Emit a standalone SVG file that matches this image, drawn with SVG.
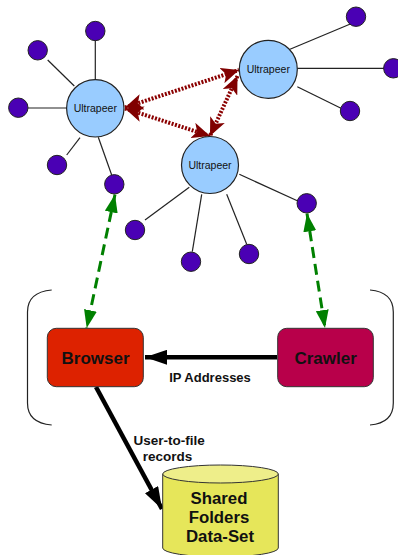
<svg xmlns="http://www.w3.org/2000/svg" width="398" height="555" viewBox="0 0 398 555">
<style>
.leaf{fill:#4a00b4;stroke:#222;stroke-width:1}
.up{fill:#99ccff;stroke:#222;stroke-width:1.2}
.uptext{font-family:"Liberation Sans",Arial,sans-serif;font-size:10.5px;fill:#111;text-anchor:middle}
.edge{stroke:#222;stroke-width:1.2;fill:none}
.peer{stroke:#8b0000;stroke-width:4;stroke-dasharray:2 1.5;fill:none}
.green{stroke:#008000;stroke-width:3;stroke-dasharray:11 6;fill:none}
.black{stroke:#000;stroke-width:4.5;fill:none}
.bold{font-family:"Liberation Sans",Arial,sans-serif;font-weight:bold;fill:#111;text-anchor:middle}
.bracket{stroke:#222;stroke-width:1.2;fill:none}
</style>
<defs>
<marker id="mred" viewBox="0 0 18 16" refX="18" refY="8" markerWidth="18" markerHeight="16" markerUnits="userSpaceOnUse" orient="auto-start-reverse">
<path d="M0,0 L18,8 L0,16 L4.5,8 z" fill="#800000"/>
</marker>
<marker id="mgreen" viewBox="0 0 18 13" refX="18" refY="6.5" markerWidth="18" markerHeight="13" markerUnits="userSpaceOnUse" orient="auto-start-reverse">
<path d="M0,0 L18,6.5 L0,13 z" fill="#008000"/>
</marker>
<marker id="mblack" viewBox="0 0 22 15" refX="22" refY="7.5" markerWidth="22" markerHeight="15" markerUnits="userSpaceOnUse" orient="auto">
<path d="M0,0 L22,7.5 L0,15 z" fill="#000"/>
</marker>
</defs>

<g id="connectors">
<line class="edge" x1="95.3" y1="40" x2="95.3" y2="79.5"/>
<line class="edge" x1="47.7" y1="60" x2="74.3" y2="86"/>
<line class="edge" x1="28" y1="108" x2="66.7" y2="108"/>
<line class="edge" x1="66.7" y1="155" x2="80" y2="137.7"/>
<line class="edge" x1="98.3" y1="137.3" x2="111.7" y2="175"/>
<line class="edge" x1="290" y1="49.3" x2="353.3" y2="22.7"/>
<line class="edge" x1="297.3" y1="68.3" x2="384" y2="68.3"/>
<line class="edge" x1="297.3" y1="86.7" x2="341" y2="108.3"/>
<line class="edge" x1="239.3" y1="174.3" x2="297.3" y2="200.7"/>
<line class="edge" x1="189.3" y1="187.3" x2="145" y2="220"/>
<line class="edge" x1="201.7" y1="194.3" x2="192.3" y2="251.7"/>
<line class="edge" x1="226.7" y1="194.3" x2="246.7" y2="244.3"/>
<line class="peer" x1="125" y1="107.5" x2="239" y2="70" marker-start="url(#mred)" marker-end="url(#mred)"/>
<line class="peer" x1="125" y1="108.5" x2="210" y2="136" marker-start="url(#mred)" marker-end="url(#mred)"/>
<line class="peer" x1="237.5" y1="76" x2="210" y2="136" marker-start="url(#mred)" marker-end="url(#mred)"/>
<line class="green" x1="115" y1="194.5" x2="86.7" y2="328" marker-start="url(#mgreen)" marker-end="url(#mgreen)"/>
<line class="green" x1="307" y1="213.5" x2="325" y2="328" marker-start="url(#mgreen)" marker-end="url(#mgreen)"/>
<line class="black" x1="277" y1="357.3" x2="145" y2="357.3" marker-end="url(#mblack)"/>
<line class="black" x1="96" y1="387" x2="162" y2="509" marker-end="url(#mblack)"/>
</g>

<g id="leaves">
<circle class="leaf" cx="95.3" cy="31" r="9.7"/>
<circle class="leaf" cx="37.7" cy="50.3" r="9.7"/>
<circle class="leaf" cx="18.3" cy="107.7" r="9.7"/>
<circle class="leaf" cx="57" cy="165" r="9.7"/>
<circle class="leaf" cx="114.3" cy="184.3" r="9.7"/>
<circle class="leaf" cx="356" cy="16.7" r="9.7"/>
<circle class="leaf" cx="393.3" cy="68.3" r="9.7"/>
<circle class="leaf" cx="350" cy="111" r="9.7"/>
<circle class="leaf" cx="306.7" cy="203.3" r="9.7"/>
<circle class="leaf" cx="135" cy="230" r="9.7"/>
<circle class="leaf" cx="191" cy="261.7" r="9.7"/>
<circle class="leaf" cx="249" cy="254" r="9.7"/>
</g>

<g id="ultrapeer1">
<circle class="up" cx="95.3" cy="108.3" r="28.7"/>
<text class="uptext" x="95.3" y="111.8">Ultrapeer</text>
</g>
<g id="ultrapeer2">
<circle class="up" cx="268.3" cy="69.3" r="29"/>
<text class="uptext" x="268.3" y="73">Ultrapeer</text>
</g>
<g id="ultrapeer3">
<circle class="up" cx="210" cy="165" r="28.5"/>
<text class="uptext" x="210" y="169">Ultrapeer</text>
</g>

<g id="bracket">
<path class="bracket" d="M51.7,290 Q27.5,292 27.5,312 L27.5,403 Q27.5,423 51.7,425"/>
<path class="bracket" d="M370,290 Q393.3,292 393.3,312 L393.3,403 Q393.3,423 370,425"/>
</g>

<g id="browser">
<rect x="47.3" y="328.3" width="96" height="58.4" rx="9" fill="#dd2200" stroke="#333" stroke-width="1"/>
<text class="bold" x="95.5" y="363.5" font-size="17">Browser</text>
</g>
<g id="crawler">
<rect x="277.7" y="328.3" width="95.6" height="58.4" rx="9" fill="#b8004a" stroke="#333" stroke-width="1"/>
<text class="bold" x="325.6" y="363.5" font-size="17">Crawler</text>
</g>

<g id="labels">
<text class="bold" x="210" y="381.5" font-size="13">IP Addresses</text>
<text class="bold" x="169.2" y="445" font-size="13.5">User-to-file</text>
<text class="bold" x="167.5" y="461" font-size="13.5">records</text>
</g>

<g id="dataset">
<path d="M162.7,474 L162.7,548 A57.8,9 0 0 0 278.3,548 L278.3,474 z" fill="#e6e65a" stroke="#333" stroke-width="1"/>
<ellipse cx="220.5" cy="474" rx="57.8" ry="9" fill="#eeee8a" stroke="#333" stroke-width="1"/>
<text class="bold" x="219" y="504" font-size="16.8">Shared</text>
<text class="bold" x="219" y="522.7" font-size="16.8">Folders</text>
<text class="bold" x="220" y="541.7" font-size="16.8">Data-Set</text>
</g>
</svg>
